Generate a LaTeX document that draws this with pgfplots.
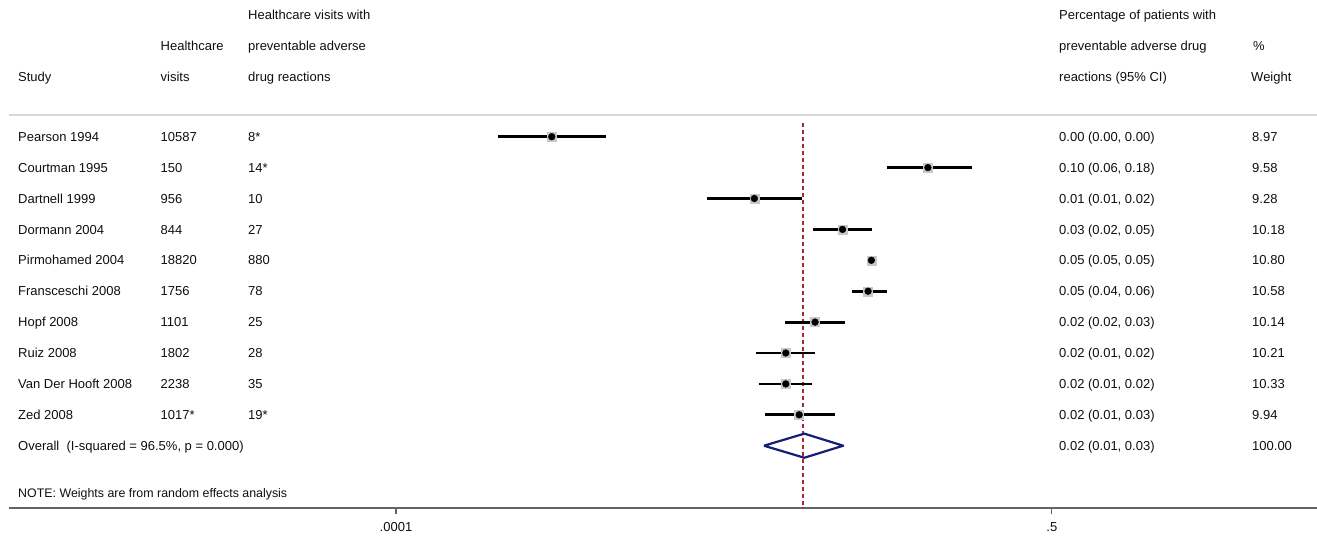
\documentclass[border=0pt]{standalone}
\usepackage{pgfplots}
\usepackage{pgfplotstable}
\pgfplotsset{compat=1.18}
\usepackage{fontspec}
\setmainfont{Liberation Sans}
\definecolor{refred}{RGB}{170,35,55}
\definecolor{navy}{RGB}{20,30,120}
\definecolor{boxgray}{RGB}{200,200,200}
\definecolor{axgray}{RGB}{100,100,100}
\definecolor{sepgray}{RGB}{215,215,215}
\definecolor{txt}{RGB}{15,15,15}
\newcommand{\mf}{\fontsize{13}{15}\selectfont}
\newcommand{\nf}{\fontsize{12.4}{14}\selectfont}

\pgfplotstableread{
row est lo hi
1 0.000756 0.000375 0.00152
2 0.100 0.059 0.177
3 0.0105 0.00565 0.0196
4 0.0330 0.0226 0.0482
5 0.0480 0.0458 0.0503
6 0.0460 0.0372 0.0586
7 0.0231 0.0156 0.0343
8 0.0158 0.0107 0.0231
9 0.0158 0.0112 0.0223
10 0.0188 0.0121 0.0299
}\studies

\begin{document}
\begin{tikzpicture}[x=1pt,y=1pt]
\useasboundingbox (0,0) rectangle (1317,537);
\begin{axis}[
  at={(9pt,29pt)}, anchor=south west,
  scale only axis, width=1308pt, height=508pt,
  xmode=log, xmin=6.566e-7, xmax=15.65,
  ymin=-3.424, ymax=13.016, y dir=reverse,
  axis x line=bottom, axis y line=none,
  axis line style={-, draw=axgray, line width=1.8pt},
  xtick={0.0001,0.5}, xticklabels={.0001,.5}, minor xtick={}, ytick=\empty,
  tick align=outside, major tick length=6pt,
  tick style={draw=axgray, line width=1.2pt},
  xticklabel style={font=\mf, text=txt, yshift=-5pt},
  clip=false, unbounded coords=jump,
]
% reference line at overall estimate
\addplot[draw=refred, dash pattern=on 4pt off 3pt, line width=1.5pt] coordinates {(0.0198,0.55) (0.0198,13.016)};
% weight boxes
\addplot[only marks, mark=square*, mark size=4.5pt, mark options={fill=boxgray, draw=boxgray}] table[x=est,y=row]{\studies};
% confidence intervals
\addplot[draw=black, line width=2.8pt] coordinates {
 (0.000375,1) (0.00152,1) (nan,nan)
 (0.059,2) (0.177,2) (nan,nan)
 (0.00565,3) (0.0196,3) (nan,nan)
 (0.0226,4) (0.0482,4) (nan,nan)
 (0.0458,5) (0.0503,5) (nan,nan)
 (0.0372,6) (0.0586,6) (nan,nan)
 (0.0156,7) (0.0343,7) (nan,nan)
 (0.0107,8) (0.0231,8) (nan,nan)
 (0.0112,9) (0.0223,9) (nan,nan)
 (0.0121,10) (0.0299,10)
};
% point estimates
\addplot[only marks, mark=*, mark size=3.4pt, mark options={fill=black, draw=black}] table[x=est,y=row]{\studies};
% overall diamond
\addplot[draw=navy, line width=2.2pt, line join=round] coordinates {(0.0119,11) (0.0201,10.61) (0.0333,11) (0.0201,11.39) (0.0119,11)};
\end{axis}

\tikzset{t/.style={anchor=base west, inner sep=0pt, font=\mf, text=txt}}
% header
\draw[sepgray, line width=1.6pt] (9,422) -- (1317,422);
\node[t] at (248,517.3) {Healthcare visits with};
\node[t] at (160.5,486.3) {Healthcare};
\node[t] at (248,486.3) {preventable adverse};
\node[t] at (18,455.3) {Study};
\node[t] at (160.5,455.3) {visits};
\node[t] at (248,455.3) {drug reactions};
\node[t] at (1059,517.3) {Percentage of patients with};
\node[t] at (1059,486.3) {preventable adverse drug};
\node[t] at (1253,486.3) {\%};
\node[t] at (1059,455.3) {reactions (95\% CI)};
\node[t] at (1251,455.3) {Weight};
% rows
\foreach \y/\a/\b/\c/\d/\e in {
 395.6/Pearson 1994/10587/8*/{0.00 (0.00, 0.00)}/8.97,
 364.7/Courtman 1995/150/14*/{0.10 (0.06, 0.18)}/9.58,
 333.8/Dartnell 1999/956/10/{0.01 (0.01, 0.02)}/9.28,
 302.9/Dormann 2004/844/27/{0.03 (0.02, 0.05)}/10.18,
 272.0/Pirmohamed 2004/18820/880/{0.05 (0.05, 0.05)}/10.80,
 241.1/Fransceschi 2008/1756/78/{0.05 (0.04, 0.06)}/10.58,
 210.2/Hopf 2008/1101/25/{0.02 (0.02, 0.03)}/10.14,
 179.3/Ruiz 2008/1802/28/{0.02 (0.01, 0.02)}/10.21,
 148.4/Van Der Hooft 2008/2238/35/{0.02 (0.01, 0.02)}/10.33,
 117.5/Zed 2008/1017*/19*/{0.02 (0.01, 0.03)}/9.94}{
 \node[t] at (18,\y) {\a};
 \node[t] at (160.5,\y) {\b};
 \node[t] at (248,\y) {\c};
 \node[t] at (1059,\y) {\d};
 \node[t] at (1252,\y) {\e};
}
\node[t] at (18,86.6) {Overall\ \ (I-squared = 96.5\%, p = 0.000)};
\node[t] at (1059,86.6) {0.02 (0.01, 0.03)};
\node[t] at (1252,86.6) {100.00};
\node[t, font=\nf] at (18,39.5) {NOTE: Weights are from random effects analysis};
\end{tikzpicture}
\end{document}
